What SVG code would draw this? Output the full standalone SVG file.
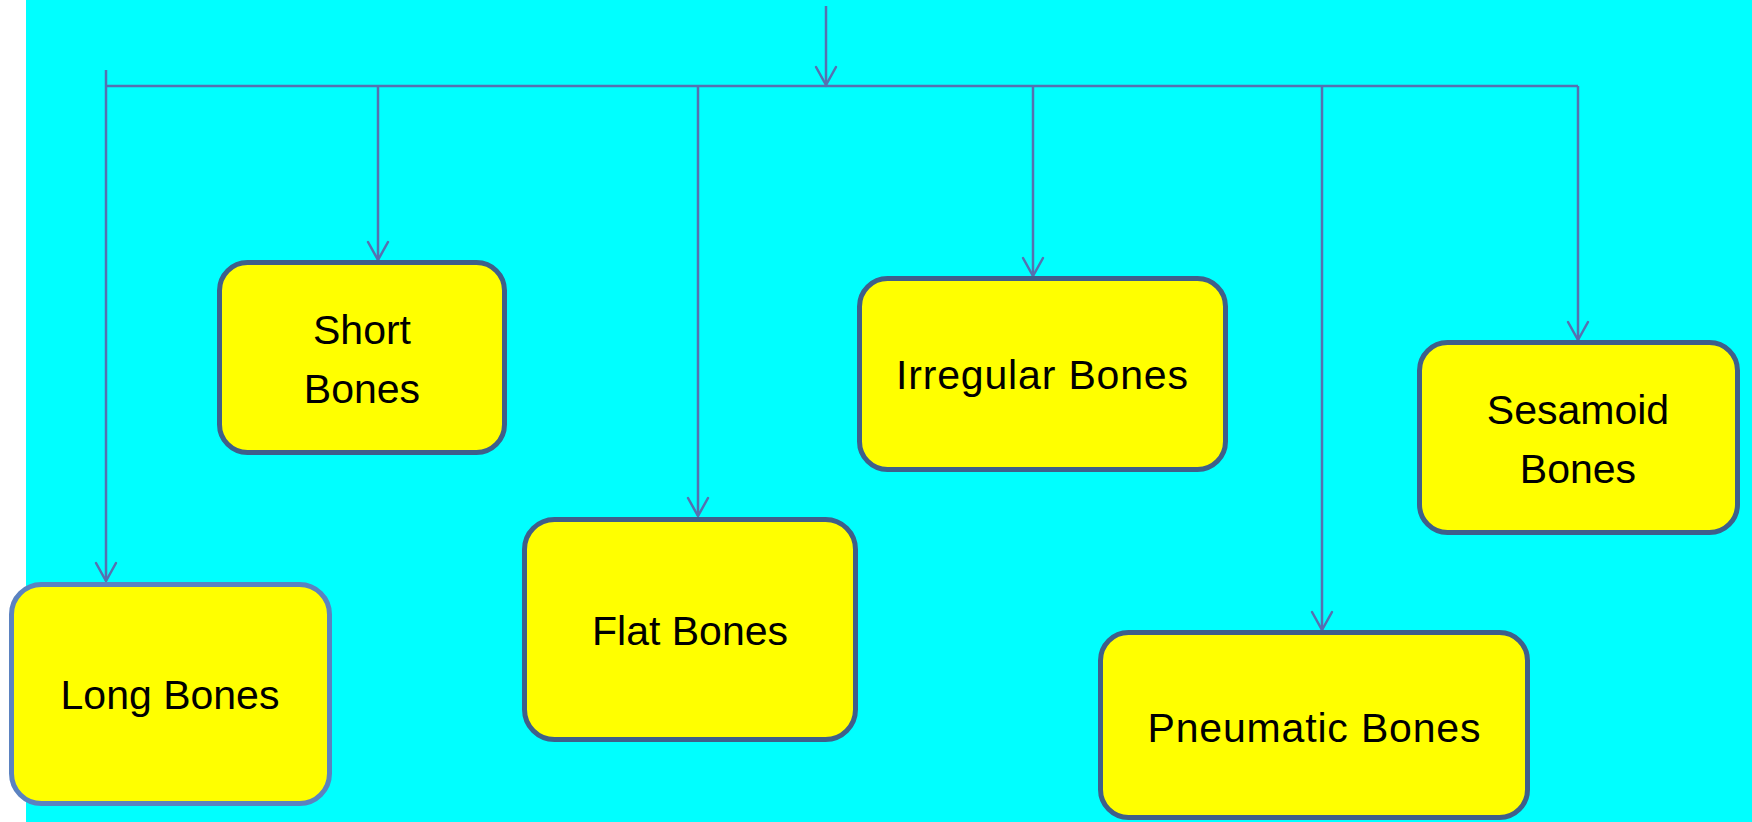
<svg xmlns="http://www.w3.org/2000/svg" width="1752" height="822" viewBox="0 0 1752 822">
<defs>
<style>
.bg{fill:#00ffff}
.box{fill:#ffff00;stroke:#3f5f8a;stroke-width:5}
.box.light{stroke:#5b82c0}
.lbl{font-family:"Liberation Sans",Arial,sans-serif;font-size:41px;fill:#000;text-anchor:middle}
.con{fill:none;stroke:#5670b0;stroke-width:2.5}
.ah{fill:none;stroke:#5670b0;stroke-width:2.5;stroke-linecap:round;stroke-linejoin:miter}
</style>
<marker id="arr" markerUnits="userSpaceOnUse" markerWidth="40" markerHeight="40" refX="0" refY="0" orient="auto" overflow="visible">
<path class="ah" d="M -18 -10 L 0 0 L -18 10"/>
</marker>
</defs>
<rect x="0" y="0" width="1752" height="822" fill="#ffffff"/>
<rect class="bg" x="26" y="0" width="1726" height="822"/>
<g id="connectors">
<line class="con" x1="826" y1="6" x2="826" y2="85" marker-end="url(#arr)"/>
<line class="con" x1="106" y1="86" x2="1578" y2="86"/>
<line class="con" x1="106" y1="70" x2="106" y2="581" marker-end="url(#arr)"/>
<line class="con" x1="378" y1="86" x2="378" y2="260" marker-end="url(#arr)"/>
<line class="con" x1="698" y1="86" x2="698" y2="516" marker-end="url(#arr)"/>
<line class="con" x1="1033" y1="86" x2="1033" y2="276" marker-end="url(#arr)"/>
<line class="con" x1="1322" y1="86" x2="1322" y2="630" marker-end="url(#arr)"/>
<line class="con" x1="1578" y1="86" x2="1578" y2="340" marker-end="url(#arr)"/>
</g>
<g id="long-bones">
<rect class="box light" x="11.5" y="584.5" width="318" height="219" rx="30"/>
<text class="lbl" x="170" y="709">Long Bones</text>
</g>
<g id="short-bones">
<rect class="box" x="219.5" y="262.5" width="285" height="190" rx="28"/>
<text class="lbl" x="362" y="344">Short</text>
<text class="lbl" x="362" y="403">Bones</text>
</g>
<g id="flat-bones">
<rect class="box" x="524.5" y="519.5" width="331" height="220" rx="30"/>
<text class="lbl" x="690" y="645">Flat Bones</text>
</g>
<g id="irregular-bones">
<rect class="box" x="859.5" y="278.5" width="366" height="191" rx="28"/>
<text class="lbl" x="1042" y="389" textLength="292" lengthAdjust="spacing">Irregular Bones</text>
</g>
<g id="pneumatic-bones">
<rect class="box" x="1100.5" y="632.5" width="427" height="185" rx="28"/>
<text class="lbl" x="1314" y="742" textLength="333" lengthAdjust="spacing">Pneumatic Bones</text>
</g>
<g id="sesamoid-bones">
<rect class="box" x="1419.5" y="342.5" width="318" height="190" rx="28"/>
<text class="lbl" x="1578" y="424">Sesamoid</text>
<text class="lbl" x="1578" y="483">Bones</text>
</g>
</svg>
